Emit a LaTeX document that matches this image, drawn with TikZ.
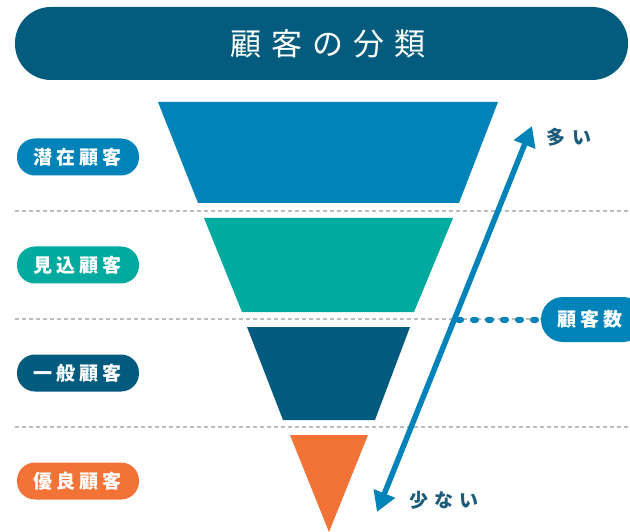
\documentclass[tikz,border=0pt]{standalone}
\usepackage{fontspec}
\setmainfont{Noto Sans CJK JP}
\usetikzlibrary{arrows.meta}
\definecolor{cTitle}{HTML}{035C7E}
\definecolor{cBlue}{HTML}{0083B8}
\definecolor{cTeal}{HTML}{00AA9E}
\definecolor{cDark}{HTML}{015B7E}
\definecolor{cOrange}{HTML}{F27335}
\definecolor{cGray}{HTML}{BDBDBD}
\definecolor{cText}{HTML}{1D5B7A}
\begin{document}
\begin{tikzpicture}[x=1pt,y=-1pt,
  pill/.style={rounded corners=18pt, minimum width=122pt, minimum height=37pt, text=white, inner sep=0pt,
    font=\bfseries\fontsize{19}{19}\selectfont},
  sepline/.style={cGray, line width=2pt, dash pattern=on 4pt off 3pt},
  side/.style={text=cText, inner sep=0pt, font=\bfseries\fontsize{19}{19}\selectfont},
]
\useasboundingbox (0,0) rectangle (630,532);
% title
\node[fill=cTitle, rounded corners=36pt, minimum width=613pt, minimum height=73pt, inner sep=0pt] (titlebar) at (321.5,43.5) {};
\node[text=white, inner sep=0pt, font=\fontsize{31}{31}\selectfont] (titletext) at (328,44)
  {顧\kern10pt 客\kern10pt の\kern10pt 分\kern10pt 類};
% separators
\coordinate (s1a) at (15,211); \coordinate (s1b) at (630,211);
\coordinate (s2a) at (15,319); \coordinate (s2b) at (630,319);
\coordinate (s3a) at (15,427); \coordinate (s3b) at (630,427);
\draw[sepline] (s1a) -- (s1b);
\draw[sepline] (s2a) -- (s2b);
\draw[sepline] (s3a) -- (s3b);
% funnel
\fill[cBlue] (158,102) -- (498,102) -- (459,203) -- (198,203) -- cycle;
\fill[cTeal] (204,218) -- (453,218) -- (414,312) -- (242,312) -- cycle;
\fill[cDark] (247,327) -- (410,327) -- (375,420) -- (283,420) -- cycle;
\fill[cOrange] (290,435) -- (368,435) -- (329,532) -- cycle;
% labels
\node[pill, fill=cBlue] (l1) at (78,157) {潜\kern4pt 在\kern4pt 顧\kern4pt 客};
\node[pill, fill=cTeal] (l2) at (78,265) {見\kern4pt 込\kern4pt 顧\kern4pt 客};
\node[pill, fill=cDark] (l3) at (78,373) {一\kern4pt 般\kern4pt 顧\kern4pt 客};
\node[pill, fill=cOrange] (l4) at (78,481) {優\kern4pt 良\kern4pt 顧\kern4pt 客};
% count pill and dotted link
\node[fill=cBlue, rounded corners=22pt, minimum width=104pt, minimum height=45pt, text=white, inner sep=0pt,
  font=\bfseries\fontsize{19}{19}\selectfont] (count) at (593,319.5) {顧\kern4pt 客\kern4pt 数\kern6pt};
\coordinate (dstart) at (458,319.5);
\draw[cBlue, line width=6pt, line cap=round, dash pattern=on 3pt off 12pt] (dstart) -- (count.west);
% arrow
\coordinate (up) at (532,126);
\coordinate (down) at (377,512);
\draw[cBlue, line width=5.5pt, {Triangle[length=20pt,width=22pt]}-{Triangle[length=20pt,width=22pt]}] (down) -- (up);
\node[side] (many) at (569,137) {多\kern7pt い};
\node[side] (few) at (444,500) {少\kern6pt な\kern6pt い};
\end{tikzpicture}
\end{document}
